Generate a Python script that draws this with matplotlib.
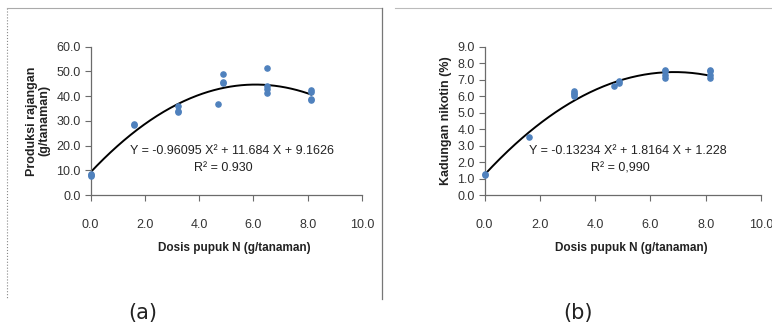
import numpy as np
import matplotlib.pyplot as plt
from matplotlib.lines import Line2D

# =====================
# datos
# =====================

# (a) produksi rajangan
xa = [0.0, 0.0, 0.0, 1.62, 1.62, 3.23, 3.23, 3.23, 4.69, 4.88, 4.88, 4.88,
      6.5, 6.5, 6.5, 6.5, 8.13, 8.13, 8.13, 8.13]
ya = [7.5, 8.0, 8.6, 28.2, 28.8, 36.1, 34.0, 33.4, 36.7, 48.9, 45.9, 45.3,
      51.3, 43.9, 42.8, 41.2, 42.5, 41.6, 38.8, 38.4]
coef_a = [-0.96095, 11.684, 9.1626]
eq_a = "Y = -0.96095 X\u00b2 + 11.684 X + 9.1626"
r2_a = "R\u00b2 = 0.930"

# (b) kadungan nikotin
xb = [0.0, 0.0, 1.61, 3.23, 3.23, 3.23, 3.23, 4.7, 4.88, 4.88,
      6.54, 6.54, 6.54, 6.54, 8.16, 8.16, 8.16, 8.16]
yb = [1.2, 1.3, 3.5, 6.0, 6.1, 6.2, 6.3, 6.6, 6.8, 6.9,
      7.1, 7.3, 7.5, 7.6, 7.1, 7.3, 7.5, 7.6]
coef_b = [-0.13234, 1.8164, 1.228]
eq_b = "Y = -0.13234 X\u00b2 + 1.8164 X + 1.228"
r2_b = "R\u00b2 = 0,990"

xticks = [0, 2, 4, 6, 8, 10]
xlabel = "Dosis pupuk N (g/tanaman)"

FONT = ['Liberation Sans Narrow', 'Liberation Sans', 'DejaVu Sans']
plt.rcParams['font.family'] = FONT

W, H = 772, 330
fig = plt.figure(figsize=(W / 100, H / 100), dpi=100)


def panel(left_px, right_px, x, y, coef, ymax, ystep, ylab, eq, r2, letter):
    top_px, bot_px = 46.7, 195
    ax = fig.add_axes([left_px / W, 1 - bot_px / H,
                       (right_px - left_px) / W, (bot_px - top_px) / H])
    xx = np.linspace(0, max(x), 200)
    ax.plot(xx, np.polyval(coef, xx), color='black', lw=1.4, zorder=2)
    ax.scatter(x, y, s=14, color='#4F81BD', zorder=3, clip_on=False)
    ax.set_xlim(0, 10)
    ax.set_ylim(0, ymax)
    ax.set_xticks(xticks)
    ax.set_xticklabels([f"{v:.1f}" for v in xticks])
    yt = np.arange(0, ymax + ystep / 2, ystep)
    ax.set_yticks(yt)
    ax.set_yticklabels([f"{v:.1f}" for v in yt])
    for s in ['top', 'right']:
        ax.spines[s].set_visible(False)
    for s in ['left', 'bottom']:
        ax.spines[s].set_color('#6b6b6b')
        ax.spines[s].set_linewidth(0.9)
    ax.tick_params(axis='x', direction='out', length=4, color='#6b6b6b',
                   labelsize=9, labelcolor='#333333', pad=13)
    ax.tick_params(axis='y', direction='out', length=4, color='#6b6b6b',
                   labelsize=9, labelcolor='#333333', pad=3)
    ax.set_ylabel(ylab, fontsize=9, fontweight='bold', color='#222222',
                  labelpad=4, linespacing=1.1)
    ax.text(0.53, -0.36, xlabel, transform=ax.transAxes, ha='center',
            va='center', fontsize=8.5, fontweight='bold', color='#222222')
    ax.text(0.52, 0.30, eq, transform=ax.transAxes, ha='center',
            va='center', fontsize=9, color='#222222')
    ax.text(0.49, 0.18, r2, transform=ax.transAxes, ha='center',
            va='center', fontsize=9, color='#222222')
    fig.text(letter[1] / W, 1 - 313 / H, letter[0], ha='center', va='center',
             fontsize=15, color='#222222', family=['DejaVu Sans'])
    return ax


panel(90.5, 362, xa, ya, coef_a, 60, 10, "Produksi rajangan\n(g/tanaman)",
      eq_a, r2_a, ("(a)", 143))
panel(484.5, 761, xb, yb, coef_b, 9, 1, "Kadungan nikotin (%)",
      eq_b, r2_b, ("(b)", 578))

# marcos de los paneles
fig.add_artist(Line2D([7 / W, 7 / W], [1 - 8 / H, 1 - 299 / H],
                      color='#888888', lw=0.8, ls=':'))
fig.add_artist(Line2D([7 / W, 382 / W], [1 - 8 / H, 1 - 8 / H],
                      color='#aaaaaa', lw=0.8))
fig.add_artist(Line2D([382 / W, 382 / W], [1 - 8 / H, 1 - 299 / H],
                      color='#777777', lw=0.9))
fig.add_artist(Line2D([395 / W, 1.0], [1 - 8 / H, 1 - 8 / H],
                      color='#bbbbbb', lw=0.8))

fig.savefig("out.png", dpi=100)
